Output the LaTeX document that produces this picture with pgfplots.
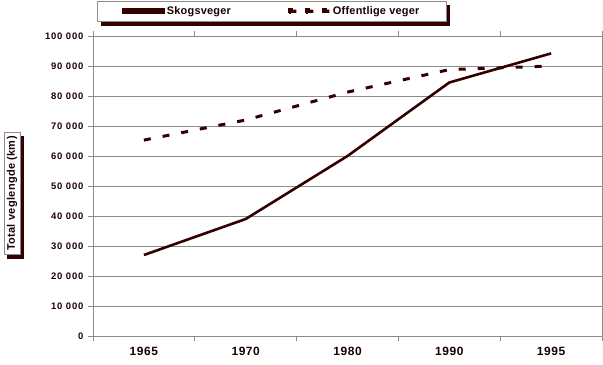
\documentclass[border=0pt]{standalone}
\usepackage{pgfplots}
\pgfplotsset{compat=1.18}
\usepackage{fontspec}
\setmainfont{Liberation Sans}
\definecolor{maroon}{HTML}{330000}
\definecolor{txt}{HTML}{1A0000}
\definecolor{gridc}{HTML}{8C8C8C}
\pgfdeclarelayer{bg}
\pgfsetlayers{bg,main}

\begin{document}
\begin{tikzpicture}[x=1bp,y=1bp]
\path[use as bounding box] (0,0) rectangle (603,364);
\begin{axis}[
  at={(93bp,28bp)}, anchor=south west,
  scale only axis, width=509bp, height=300bp,
  xmin=-0.5, xmax=4.5, ymin=0, ymax=100000,
  axis line style={gridc},
  xtick={-0.5,0.5,...,4.5}, xticklabels={},
  extra x ticks={0,1,2,3,4},
  extra x tick labels={1965,1970,1980,1990,1995},
  extra x tick style={major tick length=0pt, grid=none},
  ytick={0,10000,...,100000},
  yticklabels={0,10 000,20 000,30 000,40 000,50 000,60 000,70 000,80 000,90 000,100 000},
  ymajorgrids, major grid style={gridc, line width=0.8pt},
  tick align=outside, major tick length=5bp,
  tick style={gridc, line width=0.8pt},
  scaled y ticks=false,
  xticklabel style={font=\fontsize{12}{14}\selectfont\bfseries\addfontfeature{LetterSpace=5}, text=txt, yshift=-8bp},
  yticklabel style={font=\fontsize{9.5}{11}\selectfont\bfseries\addfontfeature{LetterSpace=9}, text=txt, xshift=-1bp},
  ylabel={Total veglengde (km)},
  ylabel style={name=ylab, at={(axis description cs:-0.159,0.475)}, anchor=center,
    font=\fontsize{11}{13}\selectfont\bfseries\addfontfeature{LetterSpace=3}, text=txt,
    draw=gridc, fill=white, inner xsep=4bp, inner ysep=3bp},
  legend columns=2,
  legend style={name=leg, at={(rel axis cs:0.008,1.117)}, anchor=north west,
    draw=gridc, fill=white, font=\fontsize{11}{13}\selectfont\bfseries\addfontfeature{LetterSpace=2}, text=txt,
    inner xsep=25bp, inner ysep=3.5bp,
    /tikz/every even column/.append style={column sep=55bp},
    cells={anchor=west}},
]
\addplot[maroon, line width=2.6bp,
  legend image code/.code={\fill[maroon] (0bp,-1.6bp) rectangle (40bp,1.6bp);}]
  coordinates {(0,27000) (1,39000) (2,60000) (3,84500) (4,94200)};
\addlegendentry{Skogsveger}
\addplot[maroon, line width=3bp, dash pattern=on 7bp off 12bp,
  legend image code/.code={\fill[maroon] (0bp,-1.6bp) rectangle (7bp,1.6bp) (17bp,-1.6bp) rectangle (24bp,1.6bp) (34bp,-1.6bp) rectangle (40bp,1.6bp);}]
  coordinates {(0,65300) (1,72000) (2,81300) (3,88800) (4,90000)};
\addlegendentry{Offentlige veger}
\end{axis}
\begin{pgfonlayer}{bg}
\fill[maroon] ([shift={(3.5bp,-4bp)}]leg.south west) rectangle ([shift={(3.5bp,-4bp)}]leg.north east);
\fill[maroon] ([shift={(3.5bp,-4bp)}]ylab.south west) rectangle ([shift={(3.5bp,-4bp)}]ylab.north east);
\end{pgfonlayer}
\end{tikzpicture}
\end{document}
